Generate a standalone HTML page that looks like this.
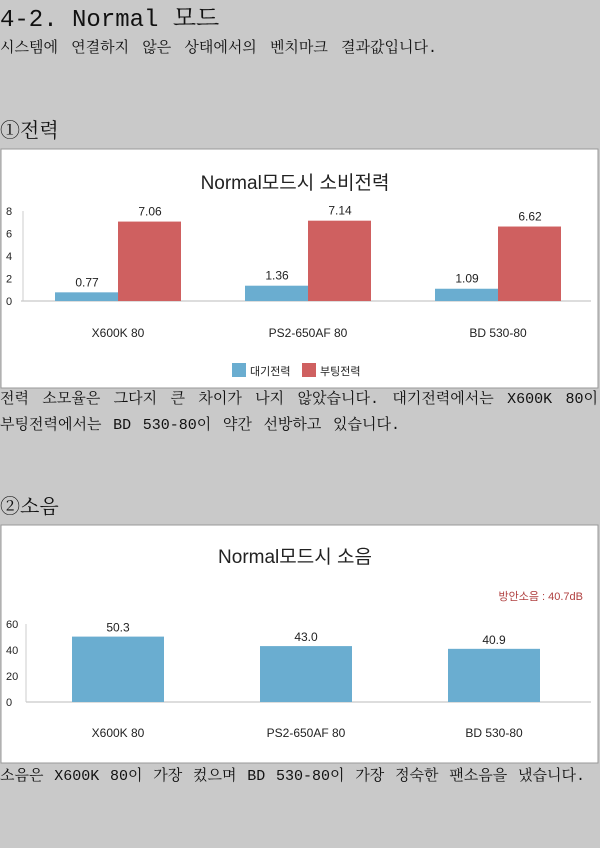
<!DOCTYPE html>
<html><head><meta charset="utf-8">
<style>
html,body{margin:0;padding:0;}
body{width:600px;height:848px;background:#c9c9c9;position:relative;overflow:hidden;font-family:"Liberation Mono","Noto Serif CJK SC","Noto Serif CJK KR",serif;color:#111;}
.t{position:absolute;left:0;white-space:nowrap;}
.j{text-align:justify;text-align-last:justify;white-space:normal;}
svg{position:absolute;left:0;}
svg text{font-family:"Liberation Sans","Noto Sans CJK KR",sans-serif;}
</style></head><body>
<div class="t" style="top:-2px;font-size:24px;">4-2. Normal 모드</div>
<div class="t j" style="top:36px;font-size:15px;width:437px;">시스템에 연결하지 않은 상태에서의 벤치마크 결과값입니다.</div>
<div class="t" style="top:114px;font-size:20px;">①전력</div>
<svg id="c1" width="600" height="242" style="top:148px"></svg>
<div class="t j" style="top:387px;font-size:15px;width:598px;">전력 소모율은 그다지 큰 차이가 나지 않았습니다. 대기전력에서는 X600K 80이</div>
<div class="t j" style="top:413px;font-size:15px;width:400px;">부팅전력에서는 BD 530-80이 약간 선방하고 있습니다.</div>
<div class="t" style="top:490px;font-size:20px;">②소음</div>
<svg id="c2" width="600" height="242" style="top:524px"></svg>
<div class="t j" style="top:764px;font-size:15px;width:585px;">소음은 X600K 80이 가장 컸으며 BD 530-80이 가장 정숙한 팬소음을 냈습니다.</div>
<script>
const categories1 = ["X600K 80","PS2-650AF 80","BD 530-80"];
const standby = [0.77,1.36,1.09];
const boot = [7.06,7.14,6.62];
const ticks1 = [0,2,4,6,8];
const categories2 = ["X600K 80","PS2-650AF 80","BD 530-80"];
const noise = [50.3,43.0,40.9];
const ticks2 = [0,20,40,60];
const NS="http://www.w3.org/2000/svg";
function mk(svg,tag,attrs,txt){const e=document.createElementNS(NS,tag);for(const k in attrs)e.setAttribute(k,attrs[k]);if(txt!==undefined)e.textContent=txt;svg.appendChild(e);return e;}
(function(){
const s=document.getElementById('c1');
let e=mk(s,'rect',{x:1,y:1,width:597,height:239,fill:'#fff',stroke:'#999'});

e=mk(s,'text',{x:295,y:41,'font-size':19,'text-anchor':'middle',fill:'#222'},'Normal모드시 소비전력');

const x0=21,bw=190,y0=153,yTop=63,ymax=8;
const y=v=>y0-(v/ymax)*(y0-yTop);
e=mk(s,'line',{x1:x0,y1:y0,x2:591,y2:y0,stroke:'#bbb'});

e=mk(s,'line',{x1:x0+2,y1:yTop,x2:x0+2,y2:y0,stroke:'#ccc'});

ticks1.forEach(t=>{e=mk(s,'text',{x:6,y:y(t)+4,'font-size':11,fill:'#222'},t);
});
categories1.forEach((c,i)=>{
 const cx=x0+bw*i+bw/2+2;
 e=mk(s,'rect',{x:cx-63,y:y(standby[i]),width:63,height:y0-y(standby[i]),fill:'#6aadd0'});
 
 e=mk(s,'rect',{x:cx,y:y(boot[i]),width:63,height:y0-y(boot[i]),fill:'#cf6060'});
 
 e=mk(s,'text',{x:cx-31,y:y(standby[i])-6,'font-size':12,'text-anchor':'middle',fill:'#222'},standby[i].toFixed(2));
 
 e=mk(s,'text',{x:cx+32,y:y(boot[i])-6,'font-size':12,'text-anchor':'middle',fill:'#222'},boot[i].toFixed(2));
 
 e=mk(s,'text',{x:cx,y:189,'font-size':12,'text-anchor':'middle',fill:'#222'},c);
 
});
e=mk(s,'rect',{x:232,y:215,width:14,height:14,fill:'#6aadd0'});

e=mk(s,'text',{x:250,y:227,'font-size':11,fill:'#222'},'대기전력');

e=mk(s,'rect',{x:302,y:215,width:14,height:14,fill:'#cf6060'});

e=mk(s,'text',{x:320,y:227,'font-size':11,fill:'#222'},'부팅전력');

})();
(function(){
const s=document.getElementById('c2');
let e=mk(s,'rect',{x:1,y:1,width:597,height:238,fill:'#fff',stroke:'#999'});

e=mk(s,'text',{x:295,y:39,'font-size':19,'text-anchor':'middle',fill:'#222'},'Normal모드시 소음');

e=mk(s,'text',{x:583,y:76,'font-size':11,'text-anchor':'end',fill:'#b04040'},'방안소음 : 40.7dB');

const x0=26,bw=188,y0=178,yTop=100,ymax=60;
const y=v=>y0-(v/ymax)*(y0-yTop);
e=mk(s,'line',{x1:x0,y1:y0,x2:591,y2:y0,stroke:'#bbb'});

e=mk(s,'line',{x1:x0,y1:yTop,x2:x0,y2:y0,stroke:'#ccc'});

ticks2.forEach(t=>{e=mk(s,'text',{x:6,y:y(t)+4,'font-size':11,fill:'#222'},t);
});
categories2.forEach((c,i)=>{
 const cx=x0+bw*i+bw/2-2;
 e=mk(s,'rect',{x:cx-46,y:y(noise[i]),width:92,height:y0-y(noise[i]),fill:'#6aadd0'});
 
 e=mk(s,'text',{x:cx,y:y(noise[i])-5,'font-size':12,'text-anchor':'middle',fill:'#222'},noise[i].toFixed(1));
 
 e=mk(s,'text',{x:cx,y:213,'font-size':12,'text-anchor':'middle',fill:'#222'},c);
 
});
})();
</script>
</body></html>
